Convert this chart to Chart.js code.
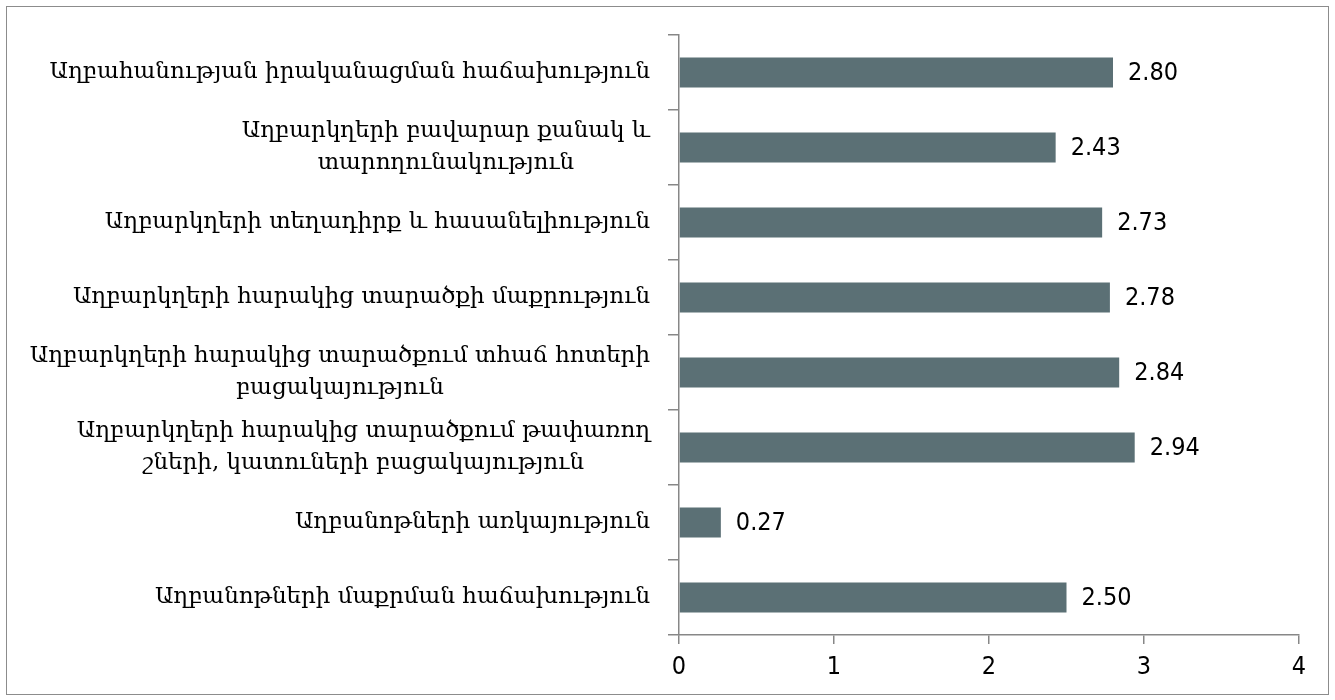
<!DOCTYPE html>
<html>
<head>
<meta charset="utf-8">
<script src="https://cdn.jsdelivr.net/npm/chart.js@4.4.1/dist/chart.umd.min.js"></script>
<style>
    body { margin: 0; background: #fff; }
    #wrap { position: relative; width: 1335px; height: 700px; }
</style>
</head>
<body>
<div id="wrap"><canvas id="chart"></canvas></div>
<script>
// categories, top to bottom (multi-line labels as arrays)
const categories = [
    ['Աղբահանության իրականացման հաճախություն'],
    ['Աղբարկղերի բավարար քանակ և', 'տարողունակություն'],
    ['Աղբարկղերի տեղադիրք և հասանելիություն'],
    ['Աղբարկղերի հարակից տարածքի մաքրություն'],
    ['Աղբարկղերի հարակից տարածքում տհաճ հոտերի', 'բացակայություն'],
    ['Աղբարկղերի հարակից տարածքում թափառող', 'շների, կատուների բացակայություն'],
    ['Աղբանոթների առկայություն'],
    ['Աղբանոթների մաքրման հաճախություն']
];
const values = [2.80, 2.43, 2.73, 2.78, 2.84, 2.94, 0.27, 2.50];
const xTicks = [0, 1, 2, 3, 4];

const AXIS_GRAY = '#878787';
const BAR_COLOR = '#5b7075';
const LABEL_FONT = '23px "DejaVu Serif", "DejaVu Sans", serif';
const VALUE_FONT = '25px "DejaVu Sans Condensed", "DejaVu Sans", sans-serif';

// draws category labels (Excel style: lines centred to each other, block right-aligned),
// value labels and the outer frame
const labelPlugin = {
    id: 'labelPlugin',
    afterDraw(chart) {
        const ctx = chart.ctx;
        const yScale = chart.scales.y;
        ctx.save();
        ctx.fillStyle = '#000';
        ctx.textBaseline = 'middle';

        ctx.font = LABEL_FONT;
        ctx.textAlign = 'center';
        categories.forEach((lines, i) => {
            const cy = yScale.getPixelForTick(i);
            const widest = Math.max(...lines.map(l => ctx.measureText(l).width));
            const cx = yScale.right - 29 - widest / 2;
            lines.forEach((line, j) => {
                ctx.fillText(line, cx, cy + (j - (lines.length - 1) / 2) * 32);
            });
        });

        ctx.font = VALUE_FONT;
        ctx.textAlign = 'left';
        chart.getDatasetMeta(0).data.forEach((bar, i) => {
            ctx.fillText(values[i].toFixed(2), bar.x + 15, bar.y + 1);
        });

        ctx.strokeStyle = '#8c8c8c';
        ctx.lineWidth = 1;
        ctx.strokeRect(6.5, 6.5, 1322, 688);
        ctx.restore();
    }
};

const ctx = document.getElementById('chart').getContext('2d');
new Chart(ctx, {
    type: 'bar',
    data: {
        labels: categories,
        datasets: [{
            data: values,
            backgroundColor: BAR_COLOR,
            borderWidth: 0,
            barPercentage: 0.4,
            categoryPercentage: 1.0
        }]
    },
    options: {
        indexAxis: 'y',
        responsive: true,
        maintainAspectRatio: false,
        animation: false,
        layout: { padding: { top: 35, right: 36, bottom: 10, left: 0 } },
        plugins: {
            legend: { display: false },
            tooltip: { enabled: false }
        },
        scales: {
            y: {
                ticks: { display: false },
                grid: { drawOnChartArea: false, drawTicks: true, tickLength: 11, color: AXIS_GRAY, lineWidth: 1.5 },
                border: { color: AXIS_GRAY, width: 1.5 },
                afterFit: (scale) => { scale.width = 679; }
            },
            x: {
                min: xTicks[0],
                max: xTicks[xTicks.length - 1],
                afterBuildTicks: (scale) => { scale.ticks = xTicks.map(v => ({ value: v })); },
                ticks: {
                    color: '#000',
                    font: { family: '"DejaVu Sans Condensed", "DejaVu Sans", sans-serif', size: 25 },
                    padding: 8
                },
                grid: { drawOnChartArea: false, drawTicks: true, tickLength: 9, color: AXIS_GRAY, lineWidth: 1.5 },
                border: { color: AXIS_GRAY, width: 1.5 },
                afterFit: (scale) => { scale.height = 55; }
            }
        }
    },
    plugins: [labelPlugin]
});
</script>
</body>
</html>
